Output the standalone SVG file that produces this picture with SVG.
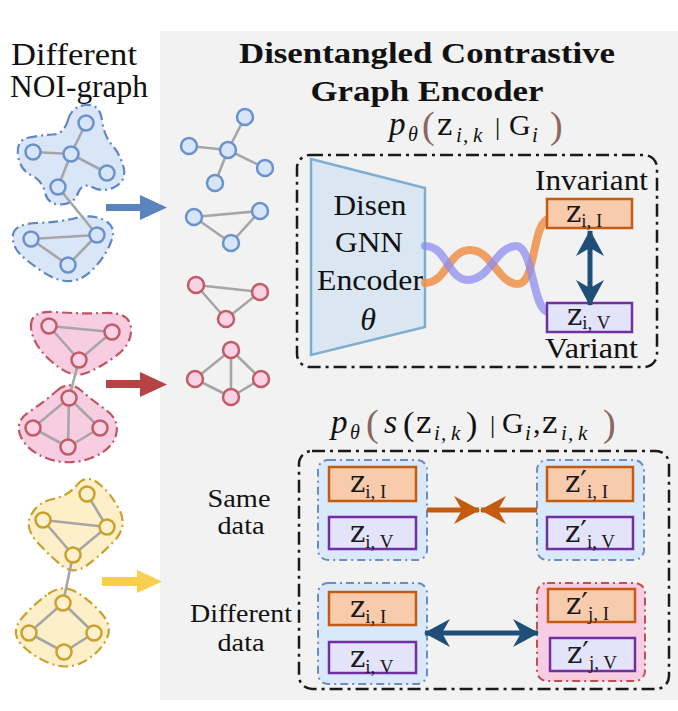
<svg xmlns="http://www.w3.org/2000/svg" width="678" height="711" viewBox="0 0 678 711" font-family="'Liberation Serif', 'Times New Roman', serif">
<defs>
<style>
.edge{stroke:#a6a6a6;stroke-width:2.6;fill:none;stroke-linecap:round}
.nb{fill:#d7e5f8;stroke:#6b92ca;stroke-width:2.5}
.nr{fill:#f9d3e5;stroke:#c25b66;stroke-width:2.5}
.ny{fill:#fdf0cd;stroke:#c9a12c;stroke-width:2.5}
.bb{fill:#d9e6f8;stroke:#5f87c2;stroke-width:2.2;stroke-dasharray:10 4 2 4}
.br{fill:#f7cde1;stroke:#bf5560;stroke-width:2.2;stroke-dasharray:10 4 2 4}
.by{fill:#fdefc8;stroke:#c9a12c;stroke-width:2.2;stroke-dasharray:10 4 2 4}
.t{font-family:'Liberation Serif','Times New Roman',serif;fill:#111}
.it{font-style:italic}
.dbox{fill:none;stroke:#1a1a1a;stroke-width:2.5;stroke-dasharray:13 5 3 5}
.zI{fill:#f8cbad;stroke:#c55a11;stroke-width:2.5}
.zV{fill:#e3e3fa;stroke:#7030a0;stroke-width:2.5}
.gB{fill:#dae8fc;stroke:#6c8ebf;stroke-width:2;stroke-dasharray:8 4 2 4}
.gR{fill:#f8cde3;stroke:#c0504d;stroke-width:2;stroke-dasharray:8 4 2 4}
.zt{font-family:'Liberation Serif','Times New Roman',serif;font-size:30px;fill:#1a1a1a}
.zz{font-family:'DejaVu Serif',serif;font-size:29px}
.sub{font-size:19px}
.br2{fill:#8a6661}
</style>
<marker id="ahBlue" viewBox="0 0 26 28" refX="25" refY="14" markerWidth="26" markerHeight="28" markerUnits="userSpaceOnUse" orient="auto-start-reverse">
<path d="M0,0 L26,14 L0,28 L8,14 Z" fill="#1f4e79"/>
</marker>
<marker id="ahOrange" viewBox="0 0 26 28" refX="25" refY="14" markerWidth="26" markerHeight="28" markerUnits="userSpaceOnUse" orient="auto">
<path d="M0,0 L26,14 L0,28 L8,14 Z" fill="#c55a11"/>
</marker>
</defs>

<rect x="0" y="0" width="678" height="711" fill="#ffffff"/>
<rect x="160" y="31" width="518" height="669" fill="#f2f2f2"/>

<g id="label-noi">
<text class="t" x="74" y="65" font-size="31" text-anchor="middle" textLength="126" lengthAdjust="spacingAndGlyphs">Different</text>
<text class="t" x="79" y="97" font-size="31" text-anchor="middle" textLength="138" lengthAdjust="spacingAndGlyphs">NOI-graph</text>
</g>

<g id="title">
<text class="t" x="427" y="63" font-size="30" font-weight="bold" text-anchor="middle" textLength="376" lengthAdjust="spacingAndGlyphs">Disentangled Contrastive</text>
<text class="t" x="427" y="101" font-size="30" font-weight="bold" text-anchor="middle" textLength="233" lengthAdjust="spacingAndGlyphs">Graph Encoder</text>
</g>

<g id="noi-blue">
<path class="bb" d="M68,120 Q72,106 86,105 Q100,104 102,120 Q104,136 112,145 Q120,154 123.5,167 Q127,180 115.5,186.5 Q104,193 93,187.5 Q82,182 78,193 Q74,204 61,204.5 Q48,205 45,192.5 Q42,180 31,175 Q20,170 18,155 Q16,140 29,137.5 Q42,135 53,134.5 Q64,134 68,120 Z"/>
<path class="bb" d="M13,235 Q14,224 37,223 Q60,222 76,218 Q92,214 104,220 Q116,226 112,239 Q108,252 96,266 Q84,280 71,281 Q58,282 43,272 Q28,262 20,254 Q12,246 13,235 Z"/>
<path class="edge" d="M86,123L71,154M33,152L71,154M71,154L107,173M71,154L58,187M58,187L97,235M31,239L97,235M31,239L68,265M68,265L97,235"/>
<circle class="nb" cx="86" cy="123" r="7.5"/><circle class="nb" cx="33" cy="152" r="7.5"/><circle class="nb" cx="71" cy="154" r="7.5"/><circle class="nb" cx="107" cy="173" r="7.5"/><circle class="nb" cx="58" cy="187" r="7.5"/>
<circle class="nb" cx="97" cy="235" r="7.5"/><circle class="nb" cx="31" cy="239" r="7.5"/><circle class="nb" cx="68" cy="265" r="7.5"/>
</g>

<g id="noi-red">
<path class="br" d="M31,327 Q30,310 55,312 Q80,314 105,313 Q130,312 131,328.5 Q132,345 114,357.5 Q96,370 83,374 Q70,378 51,361 Q32,344 31,327 Z"/>
<path class="br" d="M56.5,391 Q69,380 80.5,390 Q92,400 106,410 Q120,420 116,435 Q112,450 91,458 Q70,466 49,459 Q28,452 21,437 Q14,422 29,412 Q44,402 56.5,391 Z"/>
<path class="edge" d="M49,326L112,332M49,326L79,360M112,332L79,360M79,360L69,398M69,398L33,428M69,398L100,428M69,398L68,447M33,428L68,447M100,428L68,447"/>
<circle class="nr" cx="49" cy="326" r="7.5"/><circle class="nr" cx="112" cy="332" r="7.5"/><circle class="nr" cx="79" cy="360" r="7.5"/>
<circle class="nr" cx="69" cy="398" r="7.5"/><circle class="nr" cx="33" cy="428" r="7.5"/><circle class="nr" cx="100" cy="428" r="7.5"/><circle class="nr" cx="68" cy="447" r="7.5"/>
</g>

<g id="noi-yellow">
<path class="by" d="M77,485 Q86,474 98,483 Q110,492 119,509 Q128,526 115,540 Q102,554 88,564.5 Q74,575 63,566.5 Q52,558 38,543 Q24,528 31,515 Q38,502 53,499 Q68,496 77,485 Z"/>
<path class="by" d="M48,594 Q62,584 76,592 Q90,600 102,614 Q114,628 105,642 Q96,656 81,663 Q66,670 49,663 Q32,656 21,644 Q10,632 22,618 Q34,604 48,594 Z"/>
<path class="edge" d="M87,494L107,527M43,520L107,527M43,520L73,555M107,527L73,555M73,555L63,603M63,603L29,633M63,603L94,633M29,633L64,652M94,633L64,652"/>
<circle class="ny" cx="87" cy="494" r="7.5"/><circle class="ny" cx="43" cy="520" r="7.5"/><circle class="ny" cx="107" cy="527" r="7.5"/><circle class="ny" cx="73" cy="555" r="7.5"/>
<circle class="ny" cx="63" cy="603" r="7.5"/><circle class="ny" cx="29" cy="633" r="7.5"/><circle class="ny" cx="94" cy="633" r="7.5"/><circle class="ny" cx="64" cy="652" r="7.5"/>
</g>

<g id="split-arrows">
<polygon points="106,204 140,204 140,195 167,207.5 140,220 140,211 106,211" fill="#5b84be"/>
<polygon points="106,380 140,380 140,372 167,384.5 140,397 140,388 106,388" fill="#b64444"/>
<polygon points="102,577 137,577 137,570 162,581.5 137,593 137,586 102,586" fill="#fbcf4e"/>
</g>

<g id="sub-blue-star">
<path class="edge" d="M245,117L228,150M189,146L228,150M228,150L265,168M228,150L215,183"/>
<circle class="nb" cx="245" cy="117" r="8"/><circle class="nb" cx="189" cy="146" r="8"/><circle class="nb" cx="228" cy="150" r="8"/><circle class="nb" cx="265" cy="168" r="8"/><circle class="nb" cx="215" cy="183" r="8"/>
</g>
<g id="sub-blue-tri">
<path class="edge" d="M194,217L260,211M194,217L231,243M260,211L231,243"/>
<circle class="nb" cx="194" cy="217" r="8"/><circle class="nb" cx="260" cy="211" r="8"/><circle class="nb" cx="231" cy="243" r="8"/>
</g>
<g id="sub-red-tri">
<path class="edge" d="M196,285L260,292M196,285L226,319M260,292L226,319"/>
<circle class="nr" cx="196" cy="285" r="8"/><circle class="nr" cx="260" cy="292" r="8"/><circle class="nr" cx="226" cy="319" r="8"/>
</g>
<g id="sub-red-kite">
<path class="edge" d="M231,350L195,379M231,350L261,379M231,350L231,397M195,379L231,397M261,379L231,397"/>
<circle class="nr" cx="231" cy="350" r="8"/><circle class="nr" cx="195" cy="379" r="8"/><circle class="nr" cx="261" cy="379" r="8"/><circle class="nr" cx="231" cy="397" r="8"/>
</g>

<g id="formula-top">
<text class="t" y="135" font-size="30">
<tspan x="389" class="it" font-size="33">p</tspan><tspan x="408" y="141" class="it" font-size="20">θ</tspan><tspan x="422" y="138" class="br2" font-size="38">(</tspan><tspan x="437" y="135" class="zz" font-size="27">z</tspan><tspan x="456" y="142" class="it" font-size="21">i</tspan><tspan x="463" y="142" class="it" font-size="21">,</tspan><tspan x="473" y="142" class="it" font-size="21">k</tspan><tspan x="495" y="135" font-size="26">|</tspan><tspan x="509" y="135">G</tspan><tspan x="532" y="142" class="it" font-size="21">i</tspan><tspan x="550" y="138" class="br2" font-size="38">)</tspan>
</text>
</g>

<g id="encoder-box">
<rect class="dbox" x="297" y="155" width="360" height="212" rx="13"/>
</g>

<g id="encoder">
<polygon points="311,159 425,188 425,327 311,355" fill="#dae7f3" stroke="#7eaed0" stroke-width="2.5"/>
<text class="t" x="370" y="215" font-size="29" text-anchor="middle" textLength="73" lengthAdjust="spacingAndGlyphs">Disen</text>
<text class="t" x="369" y="252" font-size="29" text-anchor="middle" textLength="68" lengthAdjust="spacingAndGlyphs">GNN</text>
<text class="t" x="370" y="290" font-size="29" text-anchor="middle" textLength="106" lengthAdjust="spacingAndGlyphs">Encoder</text>
<text class="t it" x="368" y="330" font-size="32" text-anchor="middle">θ</text>
</g>

<g id="waves">
<path d="M425,283 C447,283 448,250 470,250 C492,250 498,284 518,284 C536,284 532,222 549,219" fill="none" stroke="#f0914a" stroke-width="8" stroke-opacity="0.85" stroke-linecap="round"/>
<path d="M425,246 C447,246 448,280 468,280 C490,280 496,246 516,246 C534,246 532,312 549,312" fill="none" stroke="#8c8cf0" stroke-width="8" stroke-opacity="0.75" stroke-linecap="round"/>
</g>

<g id="invariant">
<text class="t" x="535" y="190" font-size="29" textLength="113" lengthAdjust="spacingAndGlyphs">Invariant</text>
<rect class="zI" x="547" y="199" width="85" height="29"/>
<text class="zt" x="566" y="222"><tspan class="zz">z</tspan><tspan class="sub" dy="5">i, I</tspan></text>
</g>
<g id="variant">
<rect class="zV" x="547" y="303" width="85" height="29"/>
<text class="zt" x="567" y="325"><tspan class="zz">z</tspan><tspan class="sub" dy="4">i, V</tspan></text>
<text class="t" x="545" y="358" font-size="29" textLength="93" lengthAdjust="spacingAndGlyphs">Variant</text>
</g>

<g id="formula-bottom">
<text class="t" y="433" font-size="30">
<tspan x="331" class="it" font-size="33">p</tspan><tspan x="350" y="439" class="it" font-size="20">θ</tspan><tspan x="366" y="436" class="br2" font-size="38">(</tspan><tspan x="384" y="433" class="it" font-size="34">s</tspan><tspan x="403" y="435" font-size="34">(</tspan><tspan x="416" y="433" class="zz" font-size="27">z</tspan><tspan x="434" y="440" class="it" font-size="21">i</tspan><tspan x="441" y="440" class="it" font-size="21">,</tspan><tspan x="451" y="440" class="it" font-size="21">k</tspan><tspan x="466" y="435" font-size="34">)</tspan><tspan x="490" y="433" font-size="26">|</tspan><tspan x="502" y="433">G</tspan><tspan x="525" y="440" class="it" font-size="21">i</tspan><tspan x="533" y="433">,</tspan><tspan x="542" y="433" class="zz" font-size="27">z</tspan><tspan x="561" y="440" class="it" font-size="21">i</tspan><tspan x="568" y="440" class="it" font-size="21">,</tspan><tspan x="578" y="440" class="it" font-size="21">k</tspan><tspan x="603" y="436" class="br2" font-size="38">)</tspan>
</text>
</g>

<g id="contrast-box">
<rect class="dbox" x="299" y="451" width="370" height="238" rx="13"/>
</g>

<g id="labels-bottom">
<text class="t" x="239" y="507" font-size="25" text-anchor="middle" textLength="63" lengthAdjust="spacingAndGlyphs">Same</text>
<text class="t" x="241" y="534" font-size="25" text-anchor="middle" textLength="47" lengthAdjust="spacingAndGlyphs">data</text>
<text class="t" x="241" y="622" font-size="25" text-anchor="middle" textLength="102" lengthAdjust="spacingAndGlyphs">Different</text>
<text class="t" x="241" y="651" font-size="25" text-anchor="middle" textLength="47" lengthAdjust="spacingAndGlyphs">data</text>
</g>

<g id="same-left">
<rect class="gB" x="318" y="460" width="109" height="100" rx="10"/>
<rect class="zI" x="329" y="467" width="87" height="34"/>
<text class="zt" x="350" y="492"><tspan class="zz">z</tspan><tspan class="sub" dy="6">i, I</tspan></text>
<rect class="zV" x="329" y="517" width="87" height="32"/>
<text class="zt" x="350" y="542"><tspan class="zz">z</tspan><tspan class="sub" dy="6">i, V</tspan></text>
</g>
<g id="same-right">
<rect class="gB" x="537" y="460" width="107" height="100" rx="10"/>
<rect class="zI" x="547" y="467" width="86" height="34"/>
<text class="zt" x="565" y="492"><tspan class="zz">z′</tspan><tspan class="sub" dy="6">i, I</tspan></text>
<rect class="zV" x="547" y="517" width="86" height="32"/>
<text class="zt" x="565" y="542"><tspan class="zz">z′</tspan><tspan class="sub" dy="6">i, V</tspan></text>
</g>
<g id="diff-left">
<rect class="gB" x="318" y="583" width="109" height="101" rx="10"/>
<rect class="zI" x="329" y="592" width="87" height="33"/>
<text class="zt" x="350" y="617"><tspan class="zz">z</tspan><tspan class="sub" dy="6">i, I</tspan></text>
<rect class="zV" x="329" y="642" width="87" height="31"/>
<text class="zt" x="350" y="667"><tspan class="zz">z</tspan><tspan class="sub" dy="6">i, V</tspan></text>
</g>
<g id="diff-right">
<rect class="gR" x="537" y="583" width="108" height="98" rx="10"/>
<rect class="zI" x="548" y="589" width="87" height="33"/>
<text class="zt" x="566" y="614"><tspan class="zz">z′</tspan><tspan class="sub" dy="6">j, I</tspan></text>
<rect class="zV" x="550" y="638" width="85" height="33"/>
<text class="zt" x="567" y="663"><tspan class="zz">z′</tspan><tspan class="sub" dy="6">j, V</tspan></text>
</g>

<g id="connectors">
<line x1="590" y1="231" x2="590" y2="305" stroke="#1f4e79" stroke-width="5" marker-start="url(#ahBlue)" marker-end="url(#ahBlue)"/>
<line x1="427" y1="510" x2="479" y2="510" stroke="#c55a11" stroke-width="5" marker-end="url(#ahOrange)"/>
<line x1="537" y1="510" x2="481" y2="510" stroke="#c55a11" stroke-width="5" marker-end="url(#ahOrange)"/>
<line x1="425" y1="633" x2="538" y2="633" stroke="#1f4e79" stroke-width="5" marker-start="url(#ahBlue)" marker-end="url(#ahBlue)"/>
</g>
</svg>
